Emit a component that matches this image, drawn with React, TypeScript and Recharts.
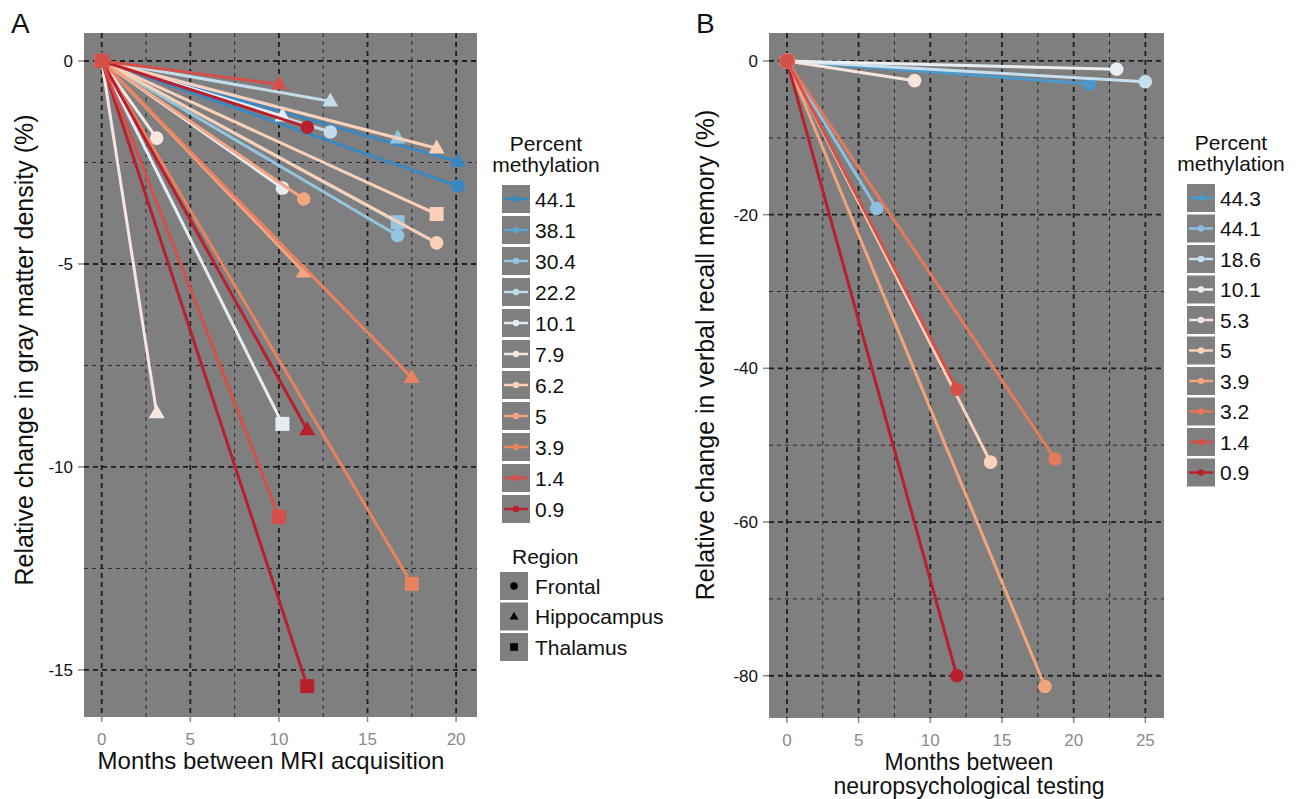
import React from 'react';
import { ScatterChart, Scatter, XAxis, YAxis, CartesianGrid } from 'recharts';

// ---------- panel A : gray matter density ----------
const methylationA = ['44.1', '38.1', '30.4', '22.2', '10.1', '7.9', '6.2', '5', '3.9', '1.4', '0.9'];
const colorsA = ['#3a88c2', '#5fa3d3', '#93c5e0', '#c3dcec', '#e6edf2', '#f7e6df', '#fbd0b9', '#f4a582', '#e9825f', '#d6504a', '#b8202e'];

// one line per subject x region, from (0,0) to the follow-up value
const subjectA = ['44.1', '44.1', '30.4', '30.4', '30.4', '22.2', '22.2', '10.1', '10.1', '10.1', '7.9', '7.9', '6.2', '6.2', '6.2', '5', '5', '3.9', '3.9', '0.9', '0.9', '0.9', '1.4', '1.4'];
const regionA = ['Hippocampus', 'Frontal', 'Hippocampus', 'Thalamus', 'Frontal', 'Hippocampus', 'Frontal', 'Hippocampus', 'Frontal', 'Thalamus', 'Frontal', 'Hippocampus', 'Hippocampus', 'Thalamus', 'Frontal', 'Frontal', 'Hippocampus', 'Hippocampus', 'Thalamus', 'Frontal', 'Hippocampus', 'Thalamus', 'Hippocampus', 'Thalamus'];
const monthsA = [20.1, 20.1, 16.7, 16.7, 16.7, 12.9, 12.9, 10.2, 10.2, 10.2, 3.1, 3.1, 18.9, 18.9, 18.9, 11.4, 11.4, 17.5, 17.5, 11.6, 11.6, 11.6, 10.0, 10.0];
const changeA = [-2.48, -3.08, -1.9, -3.97, -4.3, -0.99, -1.75, -1.36, -3.13, -8.94, -1.9, -8.67, -2.15, -3.77, -4.48, -3.4, -5.2, -7.8, -12.88, -1.63, -9.09, -15.4, -0.57, -11.23];

const xMajorA = [0, 5, 10, 15, 20];
const xMinorA = [2.5, 7.5, 12.5, 17.5];
const yMajorA = [0, -5, -10, -15];
const yMinorA = [-2.5, -7.5, -12.5];

// ---------- panel B : verbal recall memory ----------
const methylationB = ['44.3', '44.1', '18.6', '10.1', '5.3', '5', '3.9', '3.2', '1.4', '0.9'];
const colorsB = ['#4a98cc', '#8cc0de', '#c7dfee', '#e8eff4', '#f7e4dc', '#fbd1b9', '#f2a47e', '#e7795b', '#d6504a', '#b8202e'];
const subjectB = ['44.3', '44.1', '18.6', '10.1', '5.3', '3.9', '3.2', '0.9', '5', '1.4'];
const monthsB = [21.1, 6.26, 25.0, 23.0, 8.9, 18.0, 18.7, 11.85, 14.2, 11.85];
const changeB = [-3.0, -19.2, -2.7, -1.08, -2.56, -81.4, -51.8, -80.0, -52.2, -42.7];

const xMajorB = [0, 5, 10, 15, 20, 25];
const xMinorB = [2.5, 7.5, 12.5, 17.5, 22.5];
const yMajorB = [0, -20, -40, -60, -80];
const yMinorB = [-10, -30, -50, -70];

const regions = ['Frontal', 'Hippocampus', 'Thalamus'];

const FONT = '"Liberation Sans", Arial, sans-serif';
const PANEL_BG = '#7f7f7f';

function Marker({ cx, cy, region, color, scale = 1 }: any) {
  if (cx == null || cy == null) return null;
  if (region === 'Hippocampus') {
    const w = 8 * scale;
    const h = 14 * scale;
    return <polygon points={`${cx},${cy - h * 0.62} ${cx - w},${cy + h * 0.38} ${cx + w},${cy + h * 0.38}`} fill={color} />;
  }
  if (region === 'Thalamus') {
    const s = 7 * scale;
    return <rect x={cx - s} y={cy - s} width={2 * s} height={2 * s} fill={color} />;
  }
  return <circle cx={cx} cy={cy} r={6.8 * scale} fill={color} />;
}

function colorOf(list: string[], colors: string[], key: string) {
  return colors[list.indexOf(key)];
}

function PanelA() {
  return (
    <ScatterChart width={480} height={790} margin={{ top: 33, right: 3, bottom: 0, left: 0 }}>
      <CartesianGrid fill={PANEL_BG} stroke="#2a2a2a" strokeWidth={1} strokeDasharray="4 4" horizontalValues={yMinorA} verticalValues={xMinorA} />
      <CartesianGrid fill="none" stroke="#1e1e1e" strokeWidth={1.8} strokeDasharray="5 4" horizontalValues={yMajorA} verticalValues={xMajorA} />
      <XAxis type="number" dataKey="x" domain={[-1.0, 21.18]} ticks={xMajorA} allowDataOverflow axisLine={false} tickSize={5} tickMargin={11} height={73}
        tick={{ fill: '#8a8a8a', fontSize: 17, fontFamily: FONT }} tickLine={{ stroke: '#8a8a8a', strokeWidth: 1.5 }} />
      <YAxis type="number" dataKey="y" domain={[-16.16, 0.69]} ticks={yMajorA} allowDataOverflow axisLine={false} tickSize={6} tickMargin={5} width={84}
        tick={{ fill: '#111', fontSize: 17, fontFamily: FONT }} tickLine={{ stroke: '#8a8a8a', strokeWidth: 1.5 }} />
      {subjectA.map((s, i) => {
        const color = colorOf(methylationA, colorsA, s);
        const data = [{ x: 0, y: 0 }, { x: monthsA[i], y: changeA[i] }];
        return (
          <Scatter key={i} data={data} fill={color} isAnimationActive={false}
            line={{ stroke: color, strokeWidth: 3 }} lineType="joint"
            shape={(p: any) => <Marker cx={p.cx} cy={p.cy} region={regionA[i]} color={color} />} />
        );
      })}
    </ScatterChart>
  );
}

function PanelB() {
  return (
    <ScatterChart width={488} height={790} margin={{ top: 33, right: 4, bottom: 0, left: 0 }}>
      <CartesianGrid fill={PANEL_BG} stroke="#2a2a2a" strokeWidth={1} strokeDasharray="4 4" horizontalValues={yMinorB} verticalValues={xMinorB} />
      <CartesianGrid fill="none" stroke="#1e1e1e" strokeWidth={1.8} strokeDasharray="5 4" horizontalValues={yMajorB} verticalValues={xMajorB} />
      <XAxis type="number" dataKey="x" domain={[-1.25, 26.3]} ticks={xMajorB} allowDataOverflow axisLine={false} tickSize={5} tickMargin={11} height={72}
        tick={{ fill: '#8a8a8a', fontSize: 17, fontFamily: FONT }} tickLine={{ stroke: '#8a8a8a', strokeWidth: 1.5 }} />
      <YAxis type="number" dataKey="y" domain={[-85.5, 3.64]} ticks={yMajorB} allowDataOverflow axisLine={false} tickSize={6} tickMargin={5} width={89}
        tick={{ fill: '#111', fontSize: 17, fontFamily: FONT }} tickLine={{ stroke: '#8a8a8a', strokeWidth: 1.5 }} />
      {subjectB.map((s, i) => {
        const color = colorOf(methylationB, colorsB, s);
        const data = [{ x: 0, y: 0 }, { x: monthsB[i], y: changeB[i] }];
        return (
          <Scatter key={i} data={data} fill={color} isAnimationActive={false}
            line={{ stroke: color, strokeWidth: 3 }} lineType="joint"
            shape={(p: any) => <Marker cx={p.cx} cy={p.cy} region="Frontal" color={color} scale={p.payload && p.payload.x === 0 ? 1.15 : 1} />} />
        );
      })}
    </ScatterChart>
  );
}

function ColourLegend({ x, y, labels, colors, step }: any) {
  return (
    <g fontFamily={FONT}>
      <text x={x + 44} y={y - 34} textAnchor="middle" fontSize={21} fill="#111">Percent</text>
      <text x={x + 44} y={y - 13} textAnchor="middle" fontSize={21} fill="#111">methylation</text>
      {labels.map((l: string, i: number) => {
        const top = y + i * step;
        return (
          <g key={l}>
            <rect x={x} y={top} width={28} height={28} fill={PANEL_BG} />
            <line x1={x + 2} x2={x + 26} y1={top + 14} y2={top + 14} stroke={colors[i]} strokeWidth={2.5} />
            <circle cx={x + 14} cy={top + 14} r={3.2} fill={colors[i]} />
            <text x={x + 33} y={top + 21.5} fontSize={21} fill="#111">{l}</text>
          </g>
        );
      })}
    </g>
  );
}

export default function App() {
  return (
    <div style={{ position: 'absolute', left: 0, top: 0, width: 1309, height: 799, background: '#fff', overflow: 'hidden' }}>
      <div style={{ position: 'absolute', left: 0, top: 0 }}><PanelA /></div>
      <div style={{ position: 'absolute', left: 680, top: 0 }}><PanelB /></div>
      <svg width={1309} height={799} style={{ position: 'absolute', left: 0, top: 0, pointerEvents: 'none' }} fontFamily={FONT}>
        <text x={11} y={33} fontSize={28} fill="#111">A</text>
        <text x={696} y={33} fontSize={28} fill="#111">B</text>

        <text x={271} y={769} textAnchor="middle" fontSize={24} fill="#111">Months between MRI acquisition</text>
        <text transform="translate(33,350) rotate(-90)" textAnchor="middle" fontSize={25} fill="#111">Relative change in gray matter density (%)</text>

        <text x={969} y={770} textAnchor="middle" fontSize={23} fill="#111">Months between</text>
        <text x={969} y={794} textAnchor="middle" fontSize={23} fill="#111">neuropsychological testing</text>
        <text transform="translate(714,355) rotate(-90)" textAnchor="middle" fontSize={25} fill="#111">Relative change in verbal recall memory (%)</text>

        <ColourLegend x={502} y={185} labels={methylationA} colors={colorsA} step={31} />
        <g>
          <text x={512} y={564} fontSize={21} fill="#111">Region</text>
          {regions.map((r, i) => {
            const top = 572 + i * 30.5;
            return (
              <g key={r}>
                <rect x={500} y={top} width={28} height={28} fill={PANEL_BG} />
                <Marker cx={514} cy={top + 14} region={r} color="#000" scale={0.55} />
                <text x={535} y={top + 21.5} fontSize={21} fill="#111">{r}</text>
              </g>
            );
          })}
        </g>

        <ColourLegend x={1187} y={184} labels={methylationB} colors={colorsB} step={30.5} />
      </svg>
    </div>
  );
}
